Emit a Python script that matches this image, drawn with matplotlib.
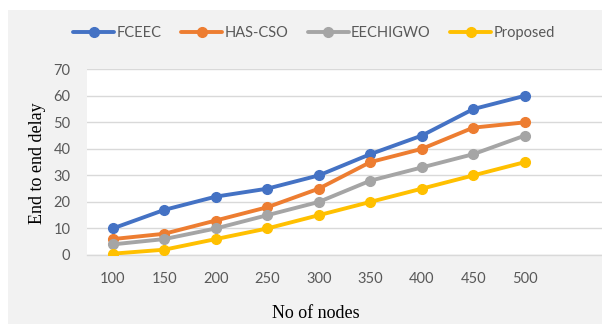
import matplotlib
matplotlib.use("Agg")
import matplotlib.pyplot as plt
from matplotlib.patches import Rectangle

# Series data
nodes = [100, 150, 200, 250, 300, 350, 400, 450, 500]
fceec = [10, 17, 22, 25, 30, 38, 45, 55, 60]
has_cso = [6, 8, 13, 18, 25, 35, 40, 48, 50]
eechigwo = [4, 6, 10, 15, 20, 28, 33, 38, 45]
proposed = [0.5, 2, 6, 10, 15, 20, 25, 30, 35]

series_names = ["FCEEC", "HAS-CSO", "EECHIGWO", "Proposed"]
series_values = [fceec, has_cso, eechigwo, proposed]
colors = ["#4472C4", "#ED7D31", "#A5A5A5", "#FFC000"]

W, H = 602, 324
fig = plt.figure(figsize=(W / 100, H / 100), dpi=100, facecolor="white")

# gray chart area behind everything
fig.patches.append(Rectangle((8 / W, 0), 1 - 8 / W, 1 - 10 / H,
                             transform=fig.transFigure, facecolor="#f2f2f2",
                             edgecolor="none", zorder=-10))

ax = fig.add_axes([87 / W, (H - 255) / H, 1 - 87 / W, (255 - 69.3) / H])
ax.set_zorder(2)
ax.set_facecolor("white")

x = list(range(len(nodes)))
for name, vals, c in zip(series_names, series_values, colors):
    ax.plot(x, vals, color=c, linewidth=2.8, marker="o", markersize=7,
            label=name, solid_capstyle="round", zorder=3)

ax.set_xlim(-0.5, 9.5)
ax.set_ylim(0, 70)
ax.set_yticks(range(0, 71, 10))
ax.set_xticks(x)
ax.set_xticklabels([str(n) for n in nodes])

ax.grid(axis="y", color="#d9d9d9", linewidth=1.0, zorder=0)
ax.set_axisbelow(True)
for s in ["left", "right", "top"]:
    ax.spines[s].set_visible(False)
ax.spines["bottom"].set_color("#d9d9d9")
ax.spines["bottom"].set_linewidth(1.0)

tick_font = "Lato"
ax.tick_params(axis="both", length=0, colors="#595959", labelsize=10.5)
ax.tick_params(axis="y", pad=12)
ax.tick_params(axis="x", pad=12)
for lbl in ax.get_xticklabels() + ax.get_yticklabels():
    lbl.set_fontfamily(tick_font)

fig.text(37 / W, 1 - 163 / H, "End to end delay", rotation=90,
         ha="center", va="center", fontsize=13, family="Liberation Serif",
         color="black")
fig.text(316 / W, 1 - 313 / H, "No of nodes", ha="center", va="center",
         fontsize=13, family="Liberation Serif", color="black")

leg = fig.legend(loc="center", bbox_to_anchor=(314 / W, 1 - 33 / H), ncol=4,
                 frameon=False, handlelength=2.8, handletextpad=0.15,
                 columnspacing=1.35, prop={"family": tick_font, "size": 10.5})
for t in leg.get_texts():
    t.set_color("#595959")

fig.savefig("out.png", dpi=100, facecolor="white")
